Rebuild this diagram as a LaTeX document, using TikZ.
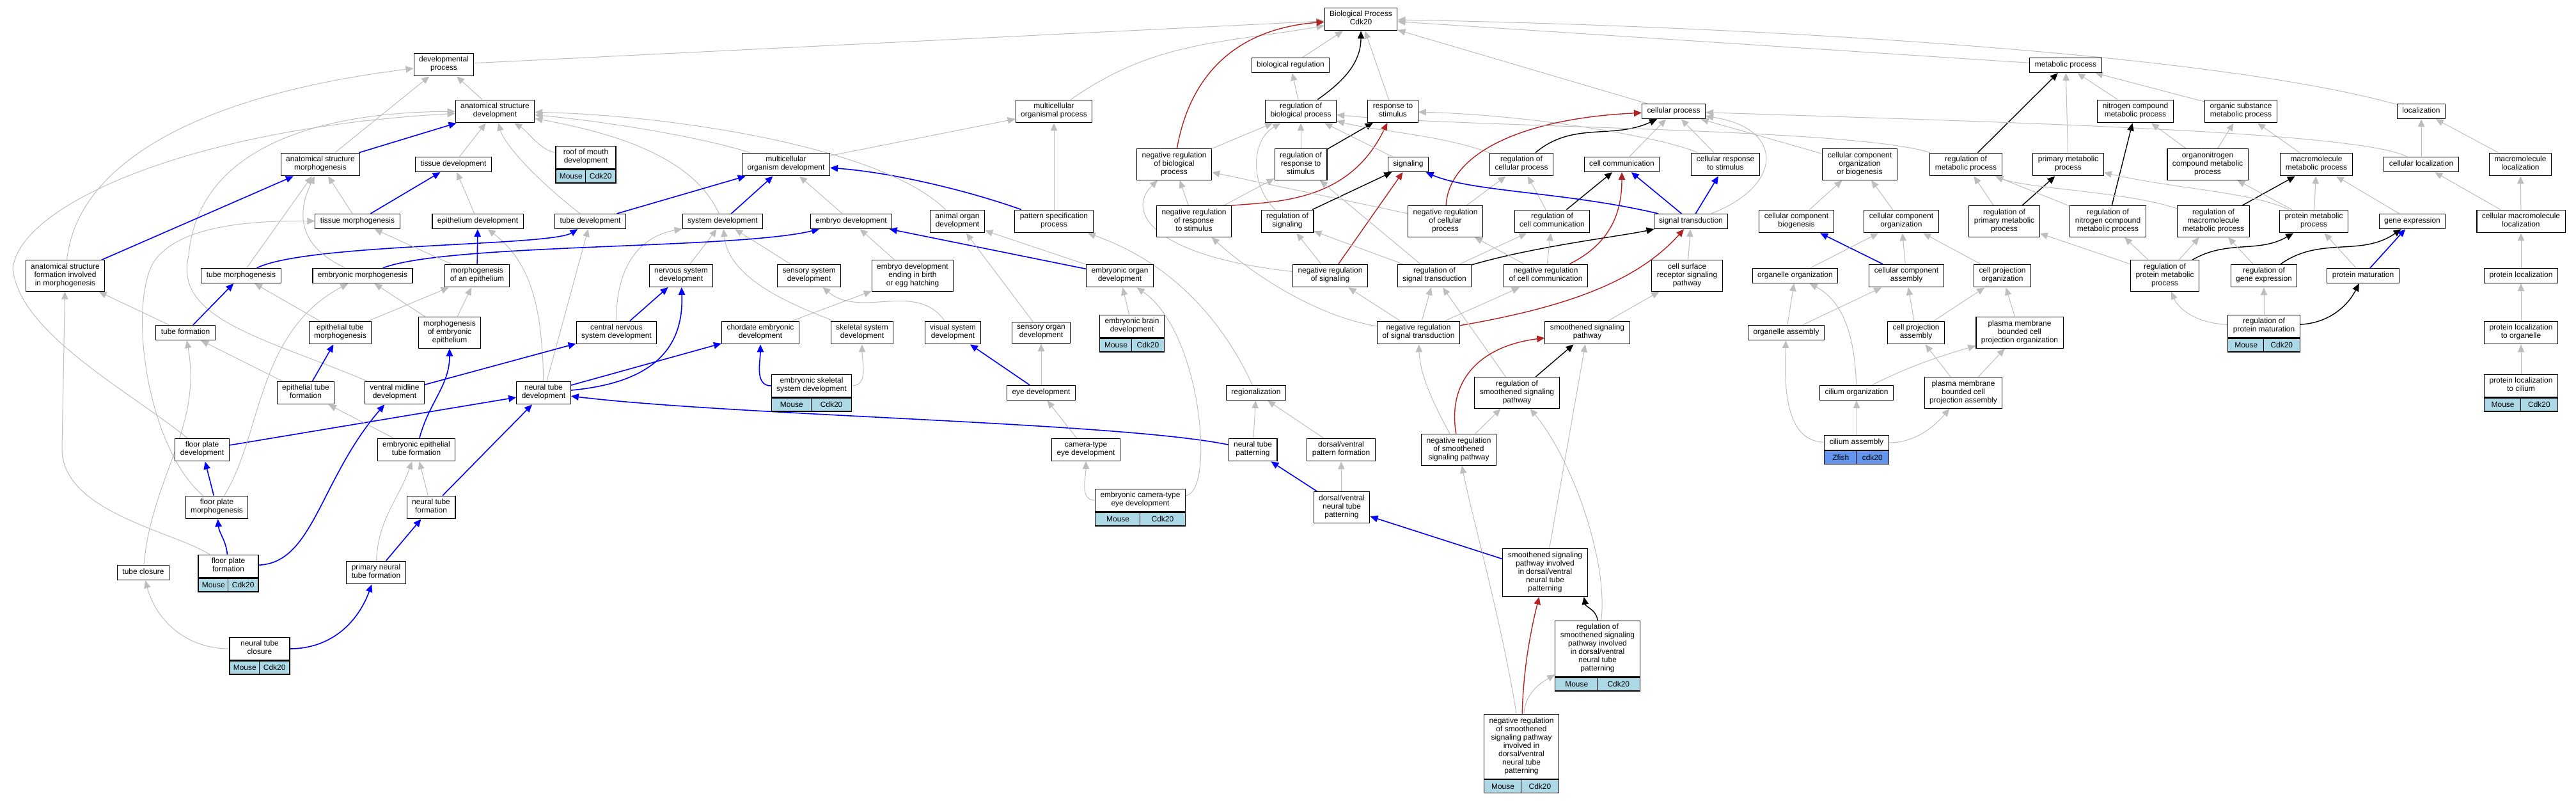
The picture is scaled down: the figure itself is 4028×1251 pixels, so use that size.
\documentclass[tikz,border=0pt]{standalone}
\usepackage{fontspec}
\setmainfont{Liberation Sans}
\usetikzlibrary{arrows.meta,calc}

\definecolor{isagray}{HTML}{BEBEBE}
\definecolor{negred}{HTML}{B22222}
\definecolor{mouse}{HTML}{ADD8E6}
\definecolor{zfish}{HTML}{6495ED}

\pgfdeclarelayer{bg}
\pgfsetlayers{bg,main}

\newcommand\taxa[4]{%
  \path let \p1=($(#1.south east)-(#1.south west)$) in
    node[cell, fill=#4, anchor=north west, minimum width=0.5*\x1] (#1-sp) at (#1.south west) {#2}
    node[cell, fill=#4, anchor=north east, minimum width=0.5*\x1] (#1-gene) at (#1.south east) {#3};}

\begin{document}
\fontsize{8.5pt}{9.25pt}\selectfont
\begin{tikzpicture}[x=0.25mm, y=-0.25mm,
  term/.style={draw, fill=white, line width=0.3mm, align=center, inner xsep=2mm, inner ysep=1.25mm,
    execute at begin node=\strut, execute at end node=\strut},
  gene/.style={term, minimum width=23.5mm},
  cell/.style={draw, line width=0.3mm, minimum height=5.25mm, inner sep=0pt},
  isa/.style={draw=isagray, line width=0.25mm, -{Triangle[length=3mm,width=2.6mm]}},
  partof/.style={draw=blue, line width=0.4mm, -{Triangle[length=3mm,width=2.6mm]}},
  regs/.style={draw=black, line width=0.35mm, -{Triangle[length=3mm,width=2.6mm]}},
  negregs/.style={draw=negred, line width=0.35mm, -{Triangle[length=3mm,width=2.6mm]}}]
\useasboundingbox (0,0) rectangle (4028,1251);

\node[term] (bp) at (2128,30) {Biological Process\\Cdk20};
\node[term] (devproc) at (694,101) {developmental\\process};
\node[term] (bioreg) at (2018,102) {biological regulation};
\node[term] (metproc) at (3230,102) {metabolic process};
\node[term] (asdev) at (774,174) {anatomical structure\\development};
\node[term] (mcop) at (1648,174) {multicellular\\organismal process};
\node[term] (regbp) at (2034,174) {regulation of\\biological process};
\node[term] (resp) at (2178,174) {response to\\stimulus};
\node[term] (cellproc) at (2617,174) {cellular process};
\node[term] (ncmp) at (3339,174) {nitrogen compound\\metabolic process};
\node[term] (osmp) at (3504,174) {organic substance\\metabolic process};
\node[term] (loc) at (3786,174) {localization};
\node[term] (asmorph) at (501,257) {anatomical structure\\morphogenesis};
\node[term] (tissdev) at (709,257) {tissue development};
\node[gene] (roofmouth) at (916,246) {roof of mouth\\development};
\node[term] (mcdev) at (1229,257) {multicellular\\organism development};
\node[term] (negregbp) at (1836,257) {negative regulation\\of biological\\process};
\node[term] (regrs) at (2034,257) {regulation of\\response to\\stimulus};
\node[term] (signaling) at (2202,257) {signaling};
\node[term] (regcp) at (2379,257) {regulation of\\cellular process};
\node[term] (cellcomm) at (2536,257) {cell communication};
\node[term] (cellresp) at (2698,257) {cellular response\\to stimulus};
\node[term] (ccob) at (2908,257) {cellular component\\organization\\or biogenesis};
\node[term] (regmp) at (3074,257) {regulation of\\metabolic process};
\node[term] (pmp) at (3234,257) {primary metabolic\\process};
\node[term] (oncmp) at (3452,257) {organonitrogen\\compound metabolic\\process};
\node[term] (mmp) at (3622,257) {macromolecule\\metabolic process};
\node[term] (cellloc) at (3786,257) {cellular localization};
\node[term] (mloc) at (3941,257) {macromolecule\\localization};
\node[term] (tissmorph) at (559,346) {tissue morphogenesis};
\node[term] (epidev) at (747,346) {epithelium development};
\node[term] (tubedev) at (923,346) {tube development};
\node[term] (sysdev) at (1130,346) {system development};
\node[term] (embdev) at (1331,346) {embryo development};
\node[term] (aodev) at (1497,346) {animal organ\\development};
\node[term] (patspec) at (1648,346) {pattern specification\\process};
\node[term] (negregrs) at (1867,346) {negative regulation\\of response\\to stimulus};
\node[term] (regsig) at (2013,346) {regulation of\\signaling};
\node[term] (negregcp) at (2260,346) {negative regulation\\of cellular\\process};
\node[term] (regcc) at (2427,346) {regulation of\\cell communication};
\node[term] (sigtrans) at (2644,346) {signal transduction};
\node[term] (ccbio) at (2809,346) {cellular component\\biogenesis};
\node[term] (ccorg) at (2973,346) {cellular component\\organization};
\node[term] (regpmp) at (3134,346) {regulation of\\primary metabolic\\process};
\node[term] (regncmp) at (3296,346) {regulation of\\nitrogen compound\\metabolic process};
\node[term] (regmmp) at (3461,346) {regulation of\\macromolecule\\metabolic process};
\node[term] (protmp) at (3618,346) {protein metabolic\\process};
\node[term] (geneexp) at (3772,346) {gene expression};
\node[term] (cmloc) at (3942,346) {cellular macromolecule\\localization};
\node[term] (asform) at (102,431) {anatomical structure\\formation involved\\in morphogenesis};
\node[term] (tubemorph) at (377,431) {tube morphogenesis};
\node[term] (embmorph) at (567,431) {embryonic morphogenesis};
\node[term] (morphepi) at (746,431) {morphogenesis\\of an epithelium};
\node[term] (nsdev) at (1065,431) {nervous system\\development};
\node[term] (ssdev) at (1265,431) {sensory system\\development};
\node[term] (embdevbirth) at (1427,431) {embryo development\\ending in birth\\or egg hatching};
\node[term] (eodev) at (1751,431) {embryonic organ\\development};
\node[term] (negregsig) at (2080,431) {negative regulation\\of signaling};
\node[term] (regst) at (2243,431) {regulation of\\signal transduction};
\node[term] (negregcc) at (2417,431) {negative regulation\\of cell communication};
\node[term] (csrsp) at (2638,431) {cell surface\\receptor signaling\\pathway};
\node[term] (orgorg) at (2807,431) {organelle organization};
\node[term] (ccasm) at (2981,431) {cellular component\\assembly};
\node[term] (cporg) at (3131,431) {cell projection\\organization};
\node[term] (regprotmp) at (3385,431) {regulation of\\protein metabolic\\process};
\node[term] (reggeneexp) at (3540,431) {regulation of\\gene expression};
\node[term] (protmat) at (3695,431) {protein maturation};
\node[term] (protloc) at (3942,431) {protein localization};
\node[term] (tubeform) at (290,520) {tube formation};
\node[term] (epitubemorph) at (532,520) {epithelial tube\\morphogenesis};
\node[term] (morphembepi) at (703,520) {morphogenesis\\of embryonic\\epithelium};
\node[term] (cnsdev) at (964,520) {central nervous\\system development};
\node[term] (chorddev) at (1189,520) {chordate embryonic\\development};
\node[term] (skeldev) at (1348,520) {skeletal system\\development};
\node[term] (visdev) at (1490,520) {visual system\\development};
\node[term] (sodev) at (1628,520) {sensory organ\\development};
\node[gene] (ebdev) at (1770,510) {embryonic brain\\development};
\node[term] (negregst) at (2218,520) {negative regulation\\of signal transduction};
\node[term] (smo) at (2482,520) {smoothened signaling\\pathway};
\node[term] (orgasm) at (2793,520) {organelle assembly};
\node[term] (cpasm) at (2996,520) {cell projection\\assembly};
\node[term] (pmbcpo) at (3158,520) {plasma membrane\\bounded cell\\projection organization};
\node[gene] (regprotmat) at (3540,510) {regulation of\\protein maturation};
\node[term] (protlocorg) at (3942,520) {protein localization\\to organelle};
\node[term] (epitubeform) at (478,614) {epithelial tube\\formation};
\node[term] (vmdev) at (617,614) {ventral midline\\development};
\node[term] (ntdev) at (850,614) {neural tube\\development};
\node[gene] (embskeldev) at (1269,603) {embryonic skeletal\\system development};
\node[term] (eyedev) at (1628,614) {eye development};
\node[term] (regio) at (1964,614) {regionalization};
\node[term] (regsmo) at (2372,614) {regulation of\\smoothened signaling\\pathway};
\node[term] (cilorg) at (2903,614) {cilium organization};
\node[term] (pmbcpa) at (3070,614) {plasma membrane\\bounded cell\\projection assembly};
\node[gene] (protloccil) at (3942,603) {protein localization\\to cilium};
\node[term] (fpdev) at (316,703) {floor plate\\development};
\node[term] (embepitubeform) at (651,703) {embryonic epithelial\\tube formation};
\node[term] (cameye) at (1698,703) {camera-type\\eye development};
\node[term] (ntpat) at (1959,703) {neural tube\\patterning};
\node[term] (dvpat) at (2097,703) {dorsal/ventral\\pattern formation};
\node[term] (negregsmo) at (2281,703) {negative regulation\\of smoothened\\signaling pathway};
\node[gene] (cilasm) at (2903,692) {cilium assembly};
\node[term] (fpmorph) at (339,793) {floor plate\\morphogenesis};
\node[term] (ntform) at (674,793) {neural tube\\formation};
\node[gene] (embcameye) at (1783,782) {embryonic camera-type\\eye development};
\node[term] (dvntpat) at (2098,793) {dorsal/ventral\\neural tube\\patterning};
\node[term] (tubeclos) at (224,895) {tube closure};
\node[gene] (fpform) at (357,885) {floor plate\\formation};
\node[term] (pntform) at (588,895) {primary neural\\tube formation};
\node[term] (smodv) at (2416,895) {smoothened signaling\\pathway involved\\in dorsal/ventral\\neural tube\\patterning};
\node[gene] (ntclos) at (406,1014) {neural tube\\closure};
\node[gene] (regsmodv) at (2498,1014) {regulation of\\smoothened signaling\\pathway involved\\in dorsal/ventral\\neural tube\\patterning};
\node[gene] (negregsmodv) at (2379,1167) {negative regulation\\of smoothened\\signaling pathway\\involved in\\dorsal/ventral\\neural tube\\patterning};

\taxa{roofmouth}{Mouse}{Cdk20}{mouse}
\taxa{ebdev}{Mouse}{Cdk20}{mouse}
\taxa{embskeldev}{Mouse}{Cdk20}{mouse}
\taxa{embcameye}{Mouse}{Cdk20}{mouse}
\taxa{fpform}{Mouse}{Cdk20}{mouse}
\taxa{ntclos}{Mouse}{Cdk20}{mouse}
\taxa{regprotmat}{Mouse}{Cdk20}{mouse}
\taxa{protloccil}{Mouse}{Cdk20}{mouse}
\taxa{regsmodv}{Mouse}{Cdk20}{mouse}
\taxa{negregsmodv}{Mouse}{Cdk20}{mouse}
\taxa{cilasm}{Zfish}{cdk20}{zfish}

\begin{pgfonlayer}{bg}
\fill[white] (0,0) rectangle (4028,1251);

\draw[isa] (devproc) -- (bp);
\draw[isa] (mcop) to[out=35,in=190] (bp);
\draw[isa] (bioreg) -- (bp);
\draw[regs] (regbp) to[out=35,in=-90] (bp);
\draw[isa] (regbp) -- (bioreg);
\draw[isa] (resp) -- (bp);
\draw[isa] (cellproc) -- (bp);
\draw[isa] (metproc) -- (bp);
\draw[isa] (loc) .. controls (3450,80) and (2700,40) .. (bp);
\draw[negregs] (negregbp) .. controls (1860,120) and (1930,45) .. (bp);
\draw[isa] (negregbp) -- (regbp);
\draw[isa] (regrs) -- (regbp);
\draw[regs] (regrs) -- (resp);
\draw[isa] (negregrs) -- (regrs);
\draw[isa] (negregrs) -- (negregbp);
\draw[negregs] (negregrs.north east) .. controls (2000,315) and (2110,315) .. (resp);
\draw[isa] (signaling) -- (regbp);
\draw[regs] (regcp) to[out=40,in=205] (cellproc);
\draw[isa] (regcp) .. controls (2250,210) and (2150,205) .. (regbp);
\draw[isa] (cellcomm) -- (cellproc);
\draw[isa] (cellresp) -- (cellproc);
\draw[isa] (cellresp) .. controls (2600,215) and (2400,180) .. (resp);
\draw[negregs] (negregcp) .. controls (2265,240) and (2380,185) .. (cellproc);
\draw[isa] (negregcp) -- (regcp);
\draw[isa] (negregcp) -- (negregbp);
\draw[regs] (regsig) -- (signaling);
\draw[isa] (regsig) .. controls (1955,290) and (1955,220) .. (regbp);
\draw[negregs] (negregsig) -- (signaling);
\draw[isa] (negregsig) -- (regsig);
\draw[isa] (negregsig) .. controls (1800,400) and (1760,330) .. (negregbp);
\draw[isa] (regst) -- (regsig);
\draw[isa] (regst) -- (regrs);
\draw[regs] (regst) .. controls (2400,385) and (2530,370) .. (sigtrans);
\draw[isa] (regst) -- (regcc);
\draw[isa] (negregcc) -- (regcc);
\draw[negregs] (negregcc) .. controls (2520,380) and (2536,330) .. (cellcomm);
\draw[isa] (negregcc) -- (negregcp);
\draw[regs] (regcc) -- (cellcomm);
\draw[isa] (regcc) -- (regcp);
\draw[partof] (sigtrans) -- (cellcomm);
\draw[partof] (sigtrans) -- (cellresp);
\draw[partof] (sigtrans) .. controls (2450,300) and (2300,300) .. (signaling);
\draw[isa] (sigtrans) .. controls (2790,290) and (2790,200) .. (cellproc);
\draw[isa] (csrsp) -- (sigtrans);
\draw[isa] (ccob) -- (cellproc);
\draw[isa] (ccbio) -- (ccob);
\draw[isa] (ccorg) -- (ccob);
\draw[partof] (ccasm) -- (ccbio);
\draw[isa] (ccasm) -- (ccorg);
\draw[isa] (orgorg) -- (ccorg);
\draw[isa] (cporg) -- (ccorg);
\draw[isa] (orgasm) -- (orgorg);
\draw[isa] (orgasm) -- (ccasm);
\draw[isa] (cpasm) -- (ccasm);
\draw[isa] (cpasm) -- (cporg);
\draw[isa] (pmbcpo) -- (cporg);
\draw[isa] (pmbcpa) -- (cpasm);
\draw[isa] (pmbcpa) -- (pmbcpo);
\draw[isa] (cilorg) .. controls (2900,520) and (2880,470) .. (orgorg);
\draw[isa] (cilorg) .. controls (2990,570) and (3040,555) .. (pmbcpo);
\draw[isa] (cilasm) -- (cilorg);
\draw[isa] (cilasm) .. controls (2790,690) and (2790,600) .. (orgasm);
\draw[isa] (cilasm) .. controls (3000,692) and (3030,660) .. (pmbcpa);

\draw[isa] (ncmp) -- (metproc);
\draw[isa] (osmp) -- (metproc);
\draw[regs] (regmp) -- (metproc);
\draw[isa] (pmp) -- (metproc);
\draw[isa] (regmp) .. controls (2900,200) and (2300,200) .. (regbp);
\draw[isa] (oncmp) -- (ncmp);
\draw[isa] (oncmp) -- (osmp);
\draw[isa] (mmp) -- (osmp);
\draw[isa] (cellloc) -- (loc);
\draw[isa] (mloc) -- (loc);
\draw[isa] (cellloc) .. controls (3690,205) and (3100,190) .. (cellproc);
\draw[regs] (regpmp) -- (pmp);
\draw[isa] (regpmp) -- (regmp);
\draw[regs] (regncmp) -- (ncmp);
\draw[isa] (regncmp) -- (regmp);
\draw[regs] (regmmp) -- (mmp);
\draw[isa] (regmmp) .. controls (3330,300) and (3170,295) .. (regmp);
\draw[isa] (protmp) -- (oncmp);
\draw[isa] (protmp) .. controls (3520,300) and (3400,295) .. (pmp);
\draw[isa] (protmp) -- (mmp);
\draw[isa] (geneexp) -- (mmp);
\draw[isa] (cmloc) -- (cellloc);
\draw[isa] (cmloc) -- (mloc);
\draw[regs] (regprotmp) to[out=30,in=210] (protmp);
\draw[isa] (regprotmp) -- (regmmp);
\draw[isa] (regprotmp) -- (regpmp);
\draw[isa] (regprotmp) -- (regncmp);
\draw[regs] (reggeneexp) to[out=35,in=215] (geneexp);
\draw[isa] (reggeneexp) -- (regmmp);
\draw[isa] (protmat) -- (protmp);
\draw[partof] (protmat) -- (geneexp);
\draw[regs] (regprotmat) .. controls (3640,505) and (3670,480) .. (protmat);
\draw[isa] (regprotmat) -- (reggeneexp);
\draw[isa] (regprotmat) .. controls (3430,505) and (3405,480) .. (regprotmp);
\draw[isa] (protloc) -- (cmloc);
\draw[isa] (protlocorg) -- (protloc);
\draw[isa] (protloccil) -- (protlocorg);

\draw[negregs] (negregst) .. controls (2450,480) and (2560,440) .. (sigtrans);
\draw[isa] (negregst) -- (negregsig);
\draw[isa] (negregst) -- (regst);
\draw[isa] (negregst) -- (negregcc);
\draw[isa] (negregst) .. controls (2060,495) and (1960,430) .. (negregrs);
\draw[isa] (smo) -- (csrsp);
\draw[regs] (regsmo) -- (smo);
\draw[isa] (regsmo) -- (regst);
\draw[negregs] (negregsmo) .. controls (2262,590) and (2320,540) .. (smo);
\draw[isa] (negregsmo) .. controls (2235,620) and (2220,580) .. (negregst);
\draw[isa] (negregsmo) -- (regsmo);
\draw[isa] (dvpat) -- (regio);
\draw[isa] (dvntpat) -- (dvpat);
\draw[partof] (dvntpat) -- (ntpat);
\draw[partof] (smodv) -- (dvntpat);
\draw[isa] (smodv) -- (smo);
\draw[regs] (regsmodv.north) to[out=95,in=-80] ([xshift=-1.5mm]smodv.south east);
\draw[isa] (regsmodv) .. controls (2515,880) and (2460,720) .. (regsmo);
\draw[negregs] (negregsmodv) .. controls (2382,1040) and (2395,980) .. (smodv);
\draw[isa] (negregsmodv) .. controls (2385,1085) and (2405,1070) .. (regsmodv);
\draw[isa] (negregsmodv) .. controls (2350,980) and (2300,800) .. (negregsmo);

\draw[isa] (ntpat) -- (regio);
\draw[partof] (ntpat) .. controls (1750,660) and (1150,650) .. (ntdev);
\draw[isa] (regio) .. controls (1930,540) and (1860,420) .. (patspec);
\draw[partof] (patspec) .. controls (1520,300) and (1400,270) .. (mcdev);
\draw[isa] (patspec) -- (mcop);
\draw[isa] (mcdev) -- (mcop);
\draw[isa] (mcdev) .. controls (1100,215) and (950,190) .. (asdev);
\draw[partof] (sysdev) -- (mcdev);
\draw[isa] (sysdev) .. controls (1090,260) and (1000,215) .. (asdev);
\draw[isa] (embdev) -- (mcdev);
\draw[isa] (aodev) .. controls (1380,230) and (1050,180) .. (asdev);
\draw[isa] (nsdev) -- (sysdev);
\draw[isa] (ssdev) -- (sysdev);
\draw[isa] (embdevbirth) -- (embdev);
\draw[partof] (eodev) -- (embdev);
\draw[isa] (eodev) -- (aodev);
\draw[isa] (ebdev) -- (eodev);
\draw[isa] (sodev) -- (aodev);
\draw[isa] (embcameye) .. controls (1900,770) and (1880,520) .. (eodev);
\draw[isa] (embcameye) to[out=180,in=-90] (cameye);
\draw[isa] (cameye) -- (eyedev);
\draw[partof] (eyedev) -- (visdev);
\draw[isa] (eyedev) -- (sodev);
\draw[isa] (visdev) to[out=125,in=-40] (ssdev);
\draw[isa] (skeldev) .. controls (1250,480) and (1140,440) .. (sysdev);
\draw[isa] (chorddev) -- (embdevbirth);
\draw[partof] (embskeldev) to[out=180,in=-90] (chorddev);
\draw[isa] (embskeldev) to[out=0,in=-90] (skeldev);
\draw[partof] (cnsdev) -- (nsdev);
\draw[isa] (cnsdev) .. controls (963,430) and (990,372) .. (sysdev);
\draw[isa] (ntdev) -- (tubedev);
\draw[isa] (ntdev) .. controls (848,480) and (830,410) .. (epidev);
\draw[partof] (ntdev) -- (chorddev);
\draw[partof] (ntdev) .. controls (1000,600) and (1070,560) .. (nsdev);
\draw[partof] (vmdev) -- (cnsdev);
\draw[isa] (vmdev) .. controls (420,530) and (270,500) .. (295,400) .. controls (310,220) and (520,175) .. (asdev);
\draw[isa] (tubedev) .. controls (850,290) and (790,230) .. (asdev);
\draw[partof] (tubedev) -- (mcdev);
\draw[isa] (tissdev) -- (asdev);
\draw[partof] (tissmorph) -- (tissdev);
\draw[isa] (tissmorph) -- (asmorph);
\draw[isa] (epidev) -- (tissdev);
\draw[isa] (asmorph) -- (devproc);
\draw[partof] (asmorph) -- (asdev);
\draw[isa] (asdev) -- (devproc);
\draw[isa] (roofmouth) .. controls (845,235) and (825,205) .. (asdev);
\draw[partof] (asform) -- (asmorph);
\draw[isa] (asform) .. controls (120,260) and (300,150) .. (devproc);
\draw[isa] (tubemorph) -- (asmorph);
\draw[partof] (tubemorph) .. controls (480,380) and (860,385) .. (tubedev);
\draw[isa] (embmorph) .. controls (455,380) and (470,320) .. (asmorph);
\draw[partof] (embmorph) .. controls (700,380) and (1150,390) .. (embdev);
\draw[partof] (morphepi) -- (epidev);
\draw[isa] (morphepi) -- (tissmorph);
\draw[partof] (tubeform) -- (tubemorph);
\draw[isa] (tubeform) -- (asform);
\draw[isa] (epitubemorph) -- (tubemorph);
\draw[isa] (epitubemorph) -- (morphepi);
\draw[isa] (morphembepi) -- (morphepi);
\draw[isa] (morphembepi) -- (embmorph);
\draw[partof] (epitubeform) -- (epitubemorph);
\draw[isa] (epitubeform) -- (tubeform);
\draw[partof] (fpdev) -- (ntdev);
\draw[isa] (fpdev) .. controls (200,610) and (30,520) .. (20,420) .. controls (30,320) and (300,200) .. (asdev);
\draw[partof] (fpmorph) -- (fpdev);
\draw[isa] (fpmorph) .. controls (230,700) and (200,480) .. (240,410) .. controls (280,350) and (400,345) .. (tissmorph);
\draw[isa] (fpmorph) .. controls (410,680) and (400,520) .. (embmorph);
\draw[partof] (fpform) to[out=95,in=-85] (fpmorph);
\draw[partof] (fpform) .. controls (490,880) and (500,750) .. (vmdev);
\draw[isa] (fpform) .. controls (270,830) and (95,800) .. (97,700) -- (asform);
\draw[isa] (tubeclos) to[out=85,in=-80] (tubeform);
\draw[isa] (ntclos) to[out=180,in=-75] (tubeclos);
\draw[partof] (ntclos) to[out=0,in=-110] (pntform);
\draw[partof] (pntform) -- (ntform);
\draw[isa] (pntform) to[out=88,in=-110] (embepitubeform);
\draw[isa] (ntform) -- (embepitubeform);
\draw[partof] (ntform) -- (ntdev);
\draw[isa] (embepitubeform) -- (epitubeform);
\draw[partof] (embepitubeform) to[out=75,in=-90] (morphembepi);
\end{pgfonlayer}
\end{tikzpicture}
\end{document}
